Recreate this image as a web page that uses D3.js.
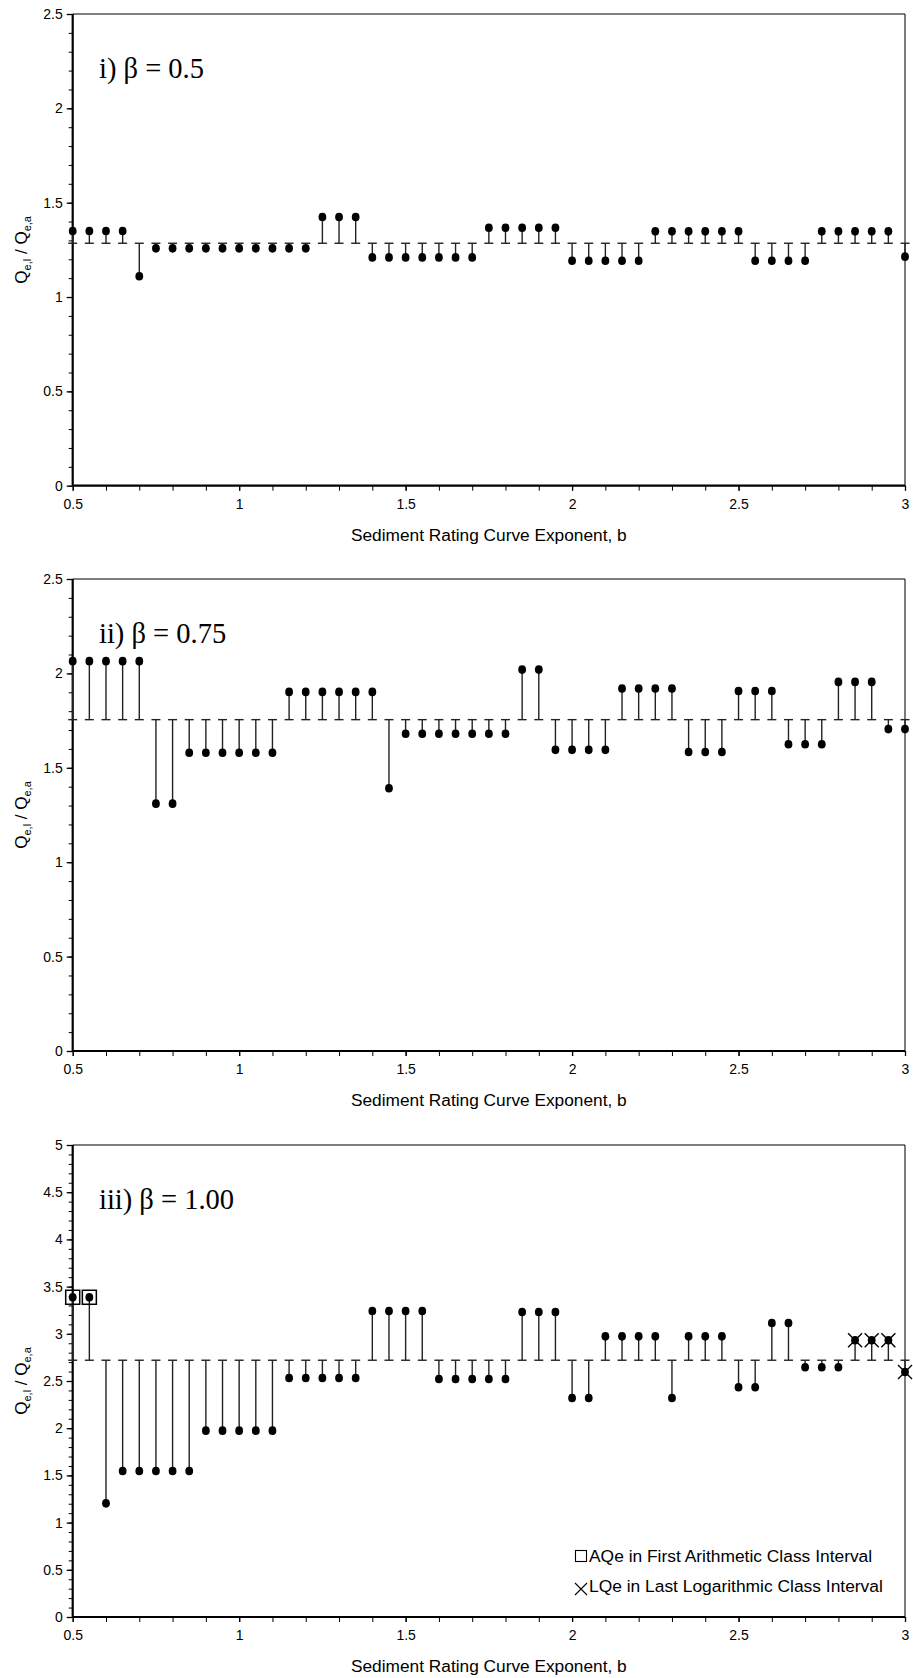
<!DOCTYPE html>
<html>
<head>
<meta charset="utf-8">
<script src="https://cdn.jsdelivr.net/npm/d3@7"></script>
<style>
  html, body { margin: 0; padding: 0; background: #fff; }
  svg { display: block; }
  text { fill: #000; }
</style>
</head>
<body>
<svg id="chart" width="913" height="1678"></svg>
<script>
// ---------------- DATA ----------------
const bValues = [0.5, 0.55, 0.6, 0.65, 0.7, 0.75, 0.8, 0.85, 0.9, 0.95,
  1.0, 1.05, 1.1, 1.15, 1.2, 1.25, 1.3, 1.35, 1.4, 1.45,
  1.5, 1.55, 1.6, 1.65, 1.7, 1.75, 1.8, 1.85, 1.9, 1.95,
  2.0, 2.05, 2.1, 2.15, 2.2, 2.25, 2.3, 2.35, 2.4, 2.45,
  2.5, 2.55, 2.6, 2.65, 2.7, 2.75, 2.8, 2.85, 2.9, 2.95, 3.0];

const ratioBeta050 = [1.35, 1.35, 1.35, 1.35, 1.11,
  1.258, 1.258, 1.258, 1.258, 1.258, 1.258, 1.258, 1.258, 1.258, 1.258,
  1.424, 1.424, 1.424,
  1.21, 1.21, 1.21, 1.21, 1.21, 1.21, 1.21,
  1.367, 1.367, 1.367, 1.367, 1.367,
  1.192, 1.192, 1.192, 1.192, 1.192,
  1.348, 1.348, 1.348, 1.348, 1.348, 1.348,
  1.192, 1.192, 1.192, 1.192,
  1.348, 1.348, 1.348, 1.348, 1.348,
  1.214];

const ratioBeta075 = [2.065, 2.065, 2.065, 2.065, 2.065,
  1.31, 1.31,
  1.58, 1.58, 1.58, 1.58, 1.58, 1.58,
  1.902, 1.902, 1.902, 1.902, 1.902, 1.902,
  1.392,
  1.68, 1.68, 1.68, 1.68, 1.68, 1.68, 1.68,
  2.02, 2.02,
  1.595, 1.595, 1.595, 1.595,
  1.92, 1.92, 1.92, 1.92,
  1.584, 1.584, 1.584,
  1.907, 1.907, 1.907,
  1.625, 1.625, 1.625,
  1.955, 1.955, 1.955,
  1.705, 1.705];

const ratioBeta100 = [3.387, 3.387,
  1.204,
  1.547, 1.547, 1.547, 1.547, 1.547,
  1.974, 1.974, 1.974, 1.974, 1.974,
  2.532, 2.532, 2.532, 2.532, 2.532,
  3.242, 3.242, 3.242, 3.242,
  2.521, 2.521, 2.521, 2.521, 2.521,
  3.231, 3.231, 3.231,
  2.32, 2.32,
  2.973, 2.973, 2.973, 2.973,
  2.32,
  2.973, 2.973, 2.973,
  2.433, 2.433,
  3.114, 3.114,
  2.645, 2.645, 2.645,
  2.931, 2.931, 2.931,
  2.595];

// reference (arithmetic-mean) line of each panel, from which stems are drawn
const baselines = [1.285, 1.755, 2.72];

// b values whose AQe lies in first arithmetic class interval (squares)
const arithFirstClassB = [0.5, 0.55];
// b values whose LQe lies in last logarithmic class interval (crosses)
const logLastClassB = [2.85, 2.9, 2.95, 3.0];

const panelTitles = ["i) \u03B2 = 0.5", "ii) \u03B2 = 0.75", "iii) \u03B2 = 1.00"];
const yMaxes = [2.5, 2.5, 5];
const yTickLabels = [
  [0, 0.5, 1, 1.5, 2, 2.5],
  [0, 0.5, 1, 1.5, 2, 2.5],
  [0, 0.5, 1, 1.5, 2, 2.5, 3, 3.5, 4, 4.5, 5]
];
const xTickLabels = [0.5, 1, 1.5, 2, 2.5, 3];
const xTitle = "Sediment Rating Curve Exponent, b";
const legendLabels = ["AQe in First Arithmetic Class Interval", "LQe in Last Logarithmic Class Interval"];

// ---------------- LAYOUT ----------------
const SANS = "Arial, 'Liberation Sans', sans-serif";
const SERIF = "'Times New Roman', 'Liberation Serif', serif";
const svg = d3.select("#chart");
const plotLeft = 72.7, plotRight = 905;
const panelRanges = [[485.7, 14], [1051, 579], [1617, 1145]];
const series = [ratioBeta050, ratioBeta075, ratioBeta100];

const x = d3.scaleLinear().domain([0.5, 3]).range([plotLeft, plotRight]);

series.forEach((vals, p) => {
  const [y0, y1] = panelRanges[p];
  const y = d3.scaleLinear().domain([0, yMaxes[p]]).range([y0, y1]);
  const g = svg.append("g").style("font-family", SANS);

  // top & right border
  g.append("line").attr("x1", plotLeft).attr("x2", plotRight).attr("y1", y1).attr("y2", y1)
    .attr("stroke", "#555").attr("stroke-width", 1.4);
  g.append("line").attr("x1", plotRight).attr("x2", plotRight).attr("y1", y1).attr("y2", y0)
    .attr("stroke", "#111").attr("stroke-width", 1.1);

  // minor ticks
  g.append("g").attr("transform", `translate(${plotLeft},0)`)
    .call(d3.axisLeft(y).tickValues(y.ticks(yMaxes[p] * 10)).tickSize(4).tickFormat(""))
    .call(a => a.select(".domain").remove())
    .selectAll("line").attr("stroke", "#000").attr("stroke-width", 1);
  g.append("g").attr("transform", `translate(0,${y0})`)
    .call(d3.axisBottom(x).tickValues(x.ticks(25)).tickSize(5).tickFormat(""))
    .call(a => a.select(".domain").remove())
    .selectAll("line").attr("stroke", "#000").attr("stroke-width", 1);

  // major axes
  const ya = g.append("g").attr("transform", `translate(${plotLeft},0)`)
    .call(d3.axisLeft(y).tickValues(yTickLabels[p]).tickSize(6).tickPadding(4).tickFormat(d => String(d)));
  ya.select(".domain").attr("stroke", "#000").attr("stroke-width", 2.2).attr("d", `M0,${y0}V${y1}`);
  ya.selectAll(".tick line").attr("stroke", "#000").attr("stroke-width", 1.3);
  ya.selectAll(".tick text").style("font-size", "14px").style("font-family", SANS).attr("fill", "#111");

  const xa = g.append("g").attr("transform", `translate(0,${y0})`)
    .call(d3.axisBottom(x).tickValues(xTickLabels).tickSize(5).tickPadding(8).tickFormat(d => String(d)));
  xa.select(".domain").attr("stroke", "#000").attr("stroke-width", 2.2).attr("d", `M${plotLeft},0H${plotRight}`);
  xa.selectAll(".tick line").attr("stroke", "#000").attr("stroke-width", 1.3);
  xa.selectAll(".tick text").style("font-size", "14px").style("font-family", SANS).attr("fill", "#111");

  // x axis title
  g.append("text").attr("x", (plotLeft + plotRight) / 2).attr("y", y0 + 55)
    .attr("text-anchor", "middle").style("font-size", "17.3px").text(xTitle);

  // y axis title
  const yt = g.append("text")
    .attr("transform", `translate(27,${(y0 + y1) / 2}) rotate(-90)`)
    .attr("text-anchor", "middle").style("font-size", "17px");
  yt.append("tspan").text("Q");
  yt.append("tspan").style("font-size", "11px").attr("dy", 4).text("e,l");
  yt.append("tspan").attr("dy", -4).text(" / Q");
  yt.append("tspan").style("font-size", "11px").attr("dy", 4).text("e,a");

  // panel title
  const titleY = [78.3, 643, 1209][p];
  g.append("text").attr("x", 99).attr("y", titleY)
    .style("font-family", SERIF).style("font-size", "28.5px").text(panelTitles[p]);

  // stems, caps, dots
  const base = baselines[p];
  const pts = bValues.map((b, i) => ({ b, v: vals[i] }));
  g.append("g").selectAll("line").data(pts).join("line")
    .attr("x1", d => x(d.b)).attr("x2", d => x(d.b))
    .attr("y1", y(base)).attr("y2", d => y(d.v))
    .attr("stroke", "#222").attr("stroke-width", 1.4);
  g.append("g").selectAll("line").data(pts).join("line")
    .attr("x1", d => x(d.b) - 4.5).attr("x2", d => x(d.b) + 4.5)
    .attr("y1", y(base)).attr("y2", y(base))
    .attr("stroke", "#222").attr("stroke-width", 1.4);
  g.append("g").selectAll("ellipse").data(pts).join("ellipse")
    .attr("cx", d => x(d.b)).attr("cy", d => y(d.v)).attr("rx", 3.9).attr("ry", 4.3)
    .attr("fill", "#000");

  if (p === 2) {
    const sq = pts.filter(d => arithFirstClassB.includes(d.b));
    g.append("g").selectAll("rect").data(sq).join("rect")
      .attr("x", d => x(d.b) - 7).attr("y", d => y(d.v) - 7).attr("width", 14).attr("height", 14)
      .attr("fill", "none").attr("stroke", "#000").attr("stroke-width", 1.5);
    const cr = pts.filter(d => logLastClassB.includes(d.b));
    const cg = g.append("g").selectAll("g").data(cr).join("g")
      .attr("transform", d => `translate(${x(d.b)},${y(d.v)})`);
    cg.append("path").attr("d", "M-7,-7L7,7M-7,7L7,-7").attr("stroke", "#000").attr("stroke-width", 1.4);

    // legend
    const lg = g.append("g");
    lg.append("rect").attr("x", 575.5).attr("y", 1550.5).attr("width", 11).attr("height", 11)
      .attr("fill", "none").attr("stroke", "#000").attr("stroke-width", 1.1);
    lg.append("text").attr("x", 589).attr("y", 1561.5).style("font-size", "17.4px").text(legendLabels[0]);
    lg.append("path").attr("d", "M575,1583L587,1595M575,1595L587,1583").attr("stroke", "#000").attr("stroke-width", 1.1);
    lg.append("text").attr("x", 589).attr("y", 1592).style("font-size", "17.4px").text(legendLabels[1]);
  }
});
</script>
</body>
</html>
